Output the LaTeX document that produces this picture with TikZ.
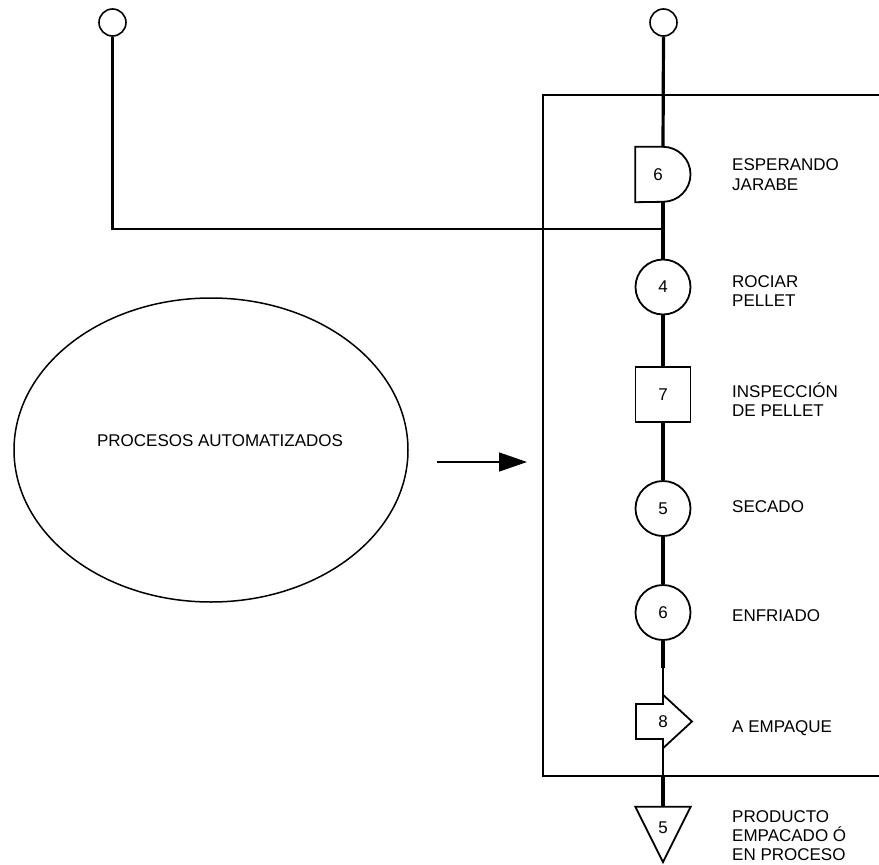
\documentclass[tikz,border=0pt]{standalone}
\usepackage{fontspec}
\setmainfont{Liberation Sans}
\usetikzlibrary{shapes.geometric,arrows.meta}
\tikzset{
  lbl/.style={anchor=base west, inner sep=0pt, font=\fontsize{17}{19}\selectfont},
  num/.style={inner sep=0pt, font=\fontsize{17}{19}\selectfont},
  opcircle/.style={draw, circle, minimum size=55pt, inner sep=0pt, line width=1.8pt, font=\fontsize{17}{19}\selectfont},
  insp/.style={draw, rectangle, minimum size=55pt, inner sep=0pt, line width=1.8pt, font=\fontsize{17}{19}\selectfont},
  holder/.style={rectangle, minimum width=55pt, minimum height=55pt, inner sep=0pt},
  endcircle/.style={draw, circle, minimum size=27pt, inner sep=0pt, line width=1.6pt},
  mainline/.style={line width=3.2pt},
  thinline/.style={line width=1.6pt},
  shapeline/.style={line width=1.8pt, line join=miter},
}
\begin{document}
\begin{tikzpicture}[x=1pt,y=-1pt]
\useasboundingbox (0,0) rectangle (879,865);
% enclosing box
\draw[line width=2.5pt] (885,95) -- (543,95) -- (543,776) -- (885,776);
% end circles
\node[endcircle] (top) at (663.5,22.5) {};
\node[endcircle] (lc) at (112.5,22.5) {};
% delay
\node[holder] (d1) at (663,174.5) {};
\draw[shapeline] (d1.north west) -- (d1.north) arc[start angle=90,end angle=-90,radius=27.5pt] -- (d1.south west) -- cycle;
\node[num] (d1t) at (658,175) {6};
% operations
\node[opcircle] (o4) at (663,287) {4};
\node[insp] (i7) at (663,394.5) {7};
\node[opcircle] (o5) at (663,508.5) {5};
\node[opcircle] (o6) at (663,612.5) {6};
% transport
\node[holder, minimum height=53pt] (t1) at (663,721.5) {};
\draw[shapeline] (636,704) -- (t1.center |- 0,704) -- (t1.north) -- (692,721.5) -- (t1.south) -- (t1.center |- 0,739) -- (636,739) -- cycle;
\node[num] (t1t) at (663,722) {8};
% storage triangle
\node[holder] (tr) at (663,834.5) {};
\draw[shapeline] (tr.north west) -- (tr.north east) -- (tr.south) -- cycle;
\node[num] (trt) at (663,828) {5};
% connectors
\coordinate (j) at (663,229);
\coordinate (k1) at (663,668);
\coordinate (k2) at (663,776);
\draw[mainline] (top.south) -- (d1.north);
\draw[mainline] (d1.south) -- (o4.north);
\draw[line width=2.8pt] (lc.south) |- (j);
\draw[mainline] (o4.south) -- (i7.north);
\draw[mainline] (i7.south) -- (o5.north);
\draw[mainline] (o5.south) -- (o6.north);
\draw[mainline] (o6.south) -- (k1);
\draw[thinline] (k1) -- (t1.north);
\draw[thinline] (t1.south) -- (k2);
\draw[mainline] (k2) -- (tr.north);
% ellipse and arrow
\node[draw, ellipse, minimum width=394pt, minimum height=304pt, line width=1.5pt] (el) at (211,450) {};
\node[num] (elt) at (220,441) {PROCESOS AUTOMATIZADOS};
\coordinate (as) at (437,462);
\coordinate (ae) at (527,462);
\draw[line width=1.5pt, -{Triangle[length=28pt,width=19pt]}] (as) -- (ae);
% labels
\node[lbl] (l1a) at (732,170) {ESPERANDO};
\node[lbl] (l1b) at (732,190) {JARABE};
\node[lbl] (l2a) at (732,287) {ROCIAR};
\node[lbl] (l2b) at (732,306) {PELLET};
\node[lbl] (l3a) at (732,397) {INSPECCIÓN};
\node[lbl] (l3b) at (732,416) {DE PELLET};
\node[lbl] (l4) at (732,512) {SECADO};
\node[lbl] (l5) at (732,621) {ENFRIADO};
\node[lbl] (l6) at (732,732) {A EMPAQUE};
\node[lbl] (l7a) at (732,822) {PRODUCTO};
\node[lbl] (l7b) at (732,841) {EMPACADO Ó};
\node[lbl] (l7c) at (732,860) {EN PROCESO};
\end{tikzpicture}
\end{document}
